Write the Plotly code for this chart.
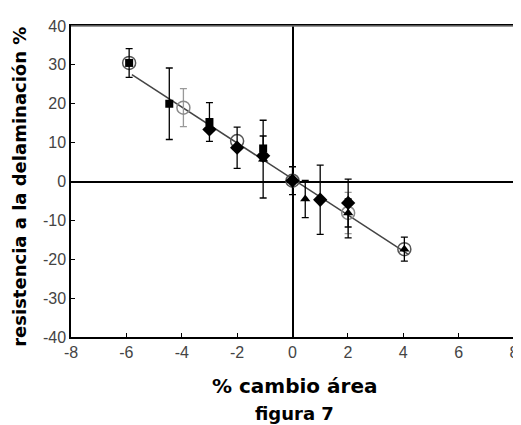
import plotly.graph_objects as go

# ---- data ----
sq_x = [-5.9, -4.45, -3.0, -1.06]
sq_y = [30.5, 20.0, 15.3, 8.5]
sq_err = [3.7, 9.2, 5.0, 3.2]

circ_x = [-5.9, -2.0, 0.0, 4.04]
circ_y = [30.5, 10.4, 0.2, -17.4]

circ_gray_x = [-3.94, 2.01]
circ_gray_y = [19.0, -8.1]
circ_gray_err = [4.9, 5.3]

dia_x = [-3.0, -2.0, -1.06, 0.0, 1.0, 2.01]
dia_y = [13.4, 8.7, 6.6, 0.2, -4.7, -5.5]
dia_err_plus = [0, 5.3, 0, 3.6, 8.9, 6.1]
dia_err_minus = [0, 5.3, 0, 3.6, 8.9, 9.0]

tri_x = [-1.06, 0.46, 2.01, 4.04]
tri_y = [5.75, -4.5, -8.1, -17.4]
tri_err = [10.0, 4.8, 3.6, 3.1]

fit_x = [-5.8, 4.2]
fit_y = [27.5, -18.8]

x_ticks = [-8, -6, -4, -2, 0, 2, 4, 6, 8]
y_ticks = [-40, -30, -20, -10, 0, 10, 20, 30, 40]

y_title = "resistencia a la delaminación %"
x_title = "% cambio área"
caption = "figura 7"

fig = go.Figure()

fig.add_trace(go.Scatter(x=fit_x, y=fit_y, mode="lines",
                         line=dict(color="#444444", width=1.5), showlegend=False))

eb = dict(type="data", thickness=1.3, width=3.5, color="black")

fig.add_trace(go.Scatter(x=circ_x, y=circ_y, mode="markers", showlegend=False,
                         marker=dict(symbol="circle-open", size=13, color="#555555",
                                     line=dict(width=1.5))))
fig.add_trace(go.Scatter(x=circ_gray_x, y=circ_gray_y, mode="markers", showlegend=False,
                         error_y=dict(eb, array=circ_gray_err, color="#999999"),
                         marker=dict(symbol="circle-open", size=13, color="#8a8a8a",
                                     line=dict(width=1.5))))
fig.add_trace(go.Scatter(x=sq_x, y=sq_y, mode="markers", showlegend=False,
                         error_y=dict(eb, array=sq_err),
                         marker=dict(symbol="square", size=8, color="black")))
fig.add_trace(go.Scatter(x=dia_x, y=dia_y, mode="markers", showlegend=False,
                         error_y=dict(eb, symmetric=False, array=dia_err_plus,
                                      arrayminus=dia_err_minus),
                         marker=dict(symbol="diamond", size=11, color="black")))
fig.add_trace(go.Scatter(x=tri_x, y=tri_y, mode="markers", showlegend=False,
                         error_y=dict(eb, array=tri_err),
                         marker=dict(symbol="triangle-up", size=9, color="black")))

tickfont = dict(family="Liberation Sans", size=16, color="#444444")
titlefont = dict(family="DejaVu Sans", size=18, color="black", weight="bold")

fig.update_xaxes(range=[-8, 8], tickvals=x_ticks, ticktext=[str(v) for v in x_ticks],
                 showgrid=False, zeroline=True, zerolinecolor="black", zerolinewidth=1.5,
                 showline=True, linecolor="black", linewidth=1.5, mirror=True,
                 ticks="inside", ticklen=4, tickcolor="black", tickfont=tickfont)
fig.update_yaxes(range=[-40, 40], tickvals=y_ticks, ticktext=[str(v) for v in y_ticks],
                 showgrid=False, zeroline=True, zerolinecolor="black", zerolinewidth=1.5,
                 showline=True, linecolor="black", linewidth=1.5, mirror=True,
                 ticks="inside", ticklen=4, tickcolor="black", tickfont=tickfont)

# lighter top and right frame lines, as in the reference
fig.add_shape(type="line", xref="paper", yref="paper", x0=0, x1=1, y0=1, y1=1,
              line=dict(color="#777777", width=1.5))
fig.add_shape(type="line", xref="paper", yref="paper", x0=1, x1=1, y0=0, y1=1,
              line=dict(color="#888888", width=1.5))

fig.add_annotation(text=y_title, xref="paper", yref="paper", x=-0.118, y=0.482,
                   textangle=-90, showarrow=False, font=titlefont,
                   xanchor="center", yanchor="middle", borderpad=0)
fig.add_annotation(text=x_title, xref="paper", yref="paper", x=0.505, y=-0.156,
                   showarrow=False, font=dict(titlefont, size=20),
                   xanchor="center", yanchor="middle")
fig.add_annotation(text=caption, xref="paper", yref="paper", x=0.505, y=-0.245,
                   showarrow=False, font=dict(titlefont, size=18),
                   xanchor="center", yanchor="middle")

fig.update_layout(width=521, height=425, margin=dict(l=63, r=10, t=16, b=96),
                  plot_bgcolor="white", paper_bgcolor="white", showlegend=False)

fig.write_html("out.html")
